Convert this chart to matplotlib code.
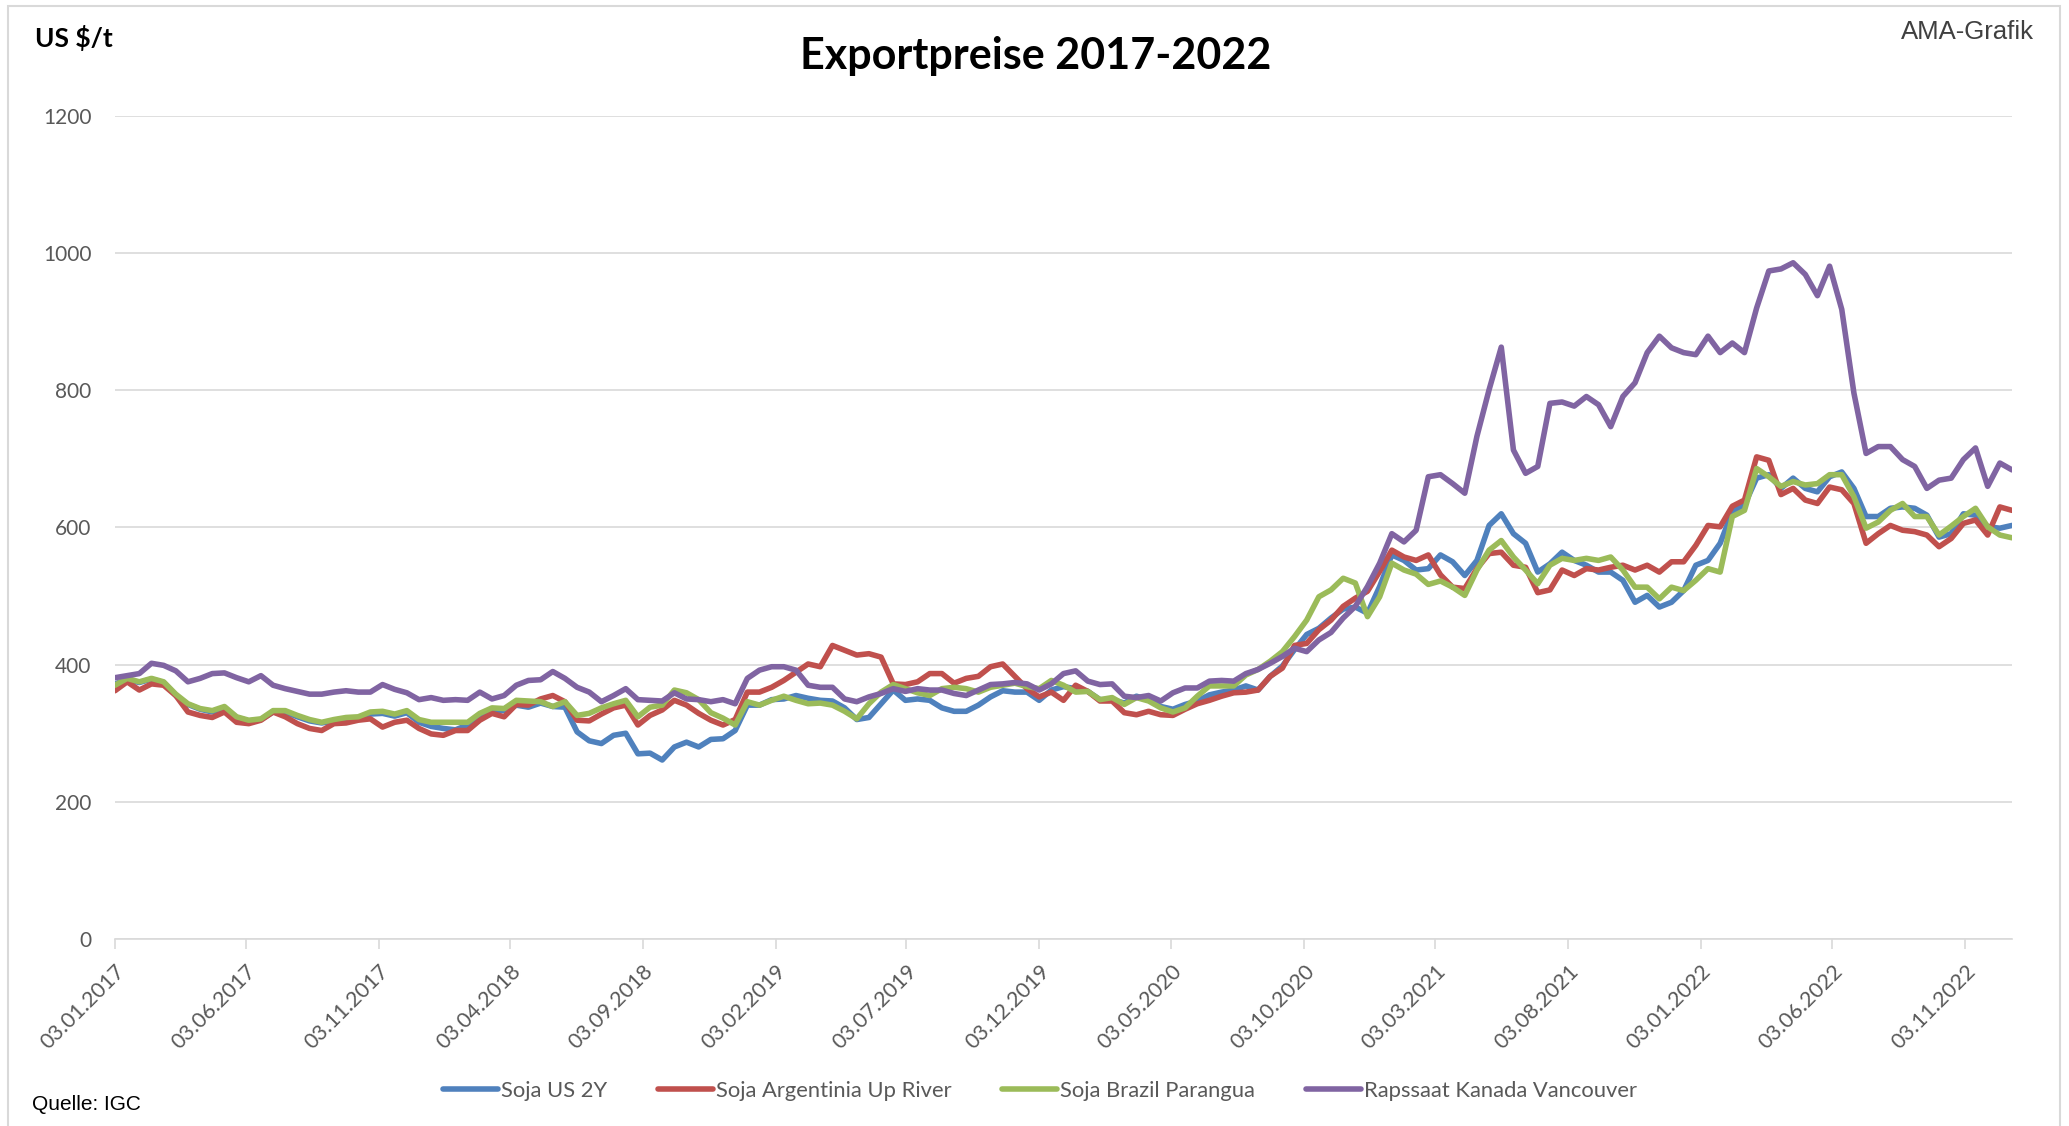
import matplotlib.pyplot as plt
import matplotlib.dates as mdates
import pandas as pd

# === Daten (US $/t, zweiwoechentlich ab 03.01.2017) ===
soja_us = [
    372, 378, 374, 379, 374, 355, 342, 335, 331, 337, 323, 318, 320, 331, 331, 324, 318, 315, 318, 321,
    322, 328, 329, 325, 330, 316, 310,
    307, 305, 312, 324, 333, 333, 341, 338, 344, 339, 338, 302, 289, 285, 297, 300, 270, 271, 261, 280,
    287, 280, 291, 292, 304, 341, 341,
    349, 350, 355, 351, 348, 347, 337, 320, 323, 343, 363, 348, 350, 348, 337, 332, 332, 341, 353, 362,
    360, 360, 348, 363, 368, 365,
    361, 349, 349, 344, 354, 349, 339, 335, 342, 347, 356, 360, 363, 369, 363, 383, 398, 422, 444, 453,
    468, 481, 484, 475, 514, 560,
    552, 538, 540, 560, 550, 530, 552, 603, 620, 591, 577, 535, 547, 564, 552, 545, 535, 535, 523, 491,
    501, 484, 491, 508, 545, 552, 577,
    623, 633, 672, 677, 657, 672, 657, 652, 674, 681, 657, 616, 616, 628, 630, 628, 618, 586, 591, 620,
    618, 601, 599, 603,
]
soja_arg = [
    362, 375, 363, 372, 370, 355, 331, 326, 323, 331, 316, 314, 319, 331, 324, 314, 307, 304, 314, 315,
    319, 321, 309, 316, 319, 307, 299,
    297, 304, 304, 319, 329, 324, 342, 341, 350, 355, 346, 319, 318, 328, 337, 341, 312, 326, 334, 348,
    341, 329, 319, 312, 320, 360, 360,
    367, 377, 389, 401, 397, 428, 421, 414, 416, 411, 372, 371, 375, 387, 387, 373, 380, 383, 397, 401,
    383, 365, 353, 360, 348, 370,
    361, 347, 347, 330, 327, 332, 327, 326, 335, 343, 348, 354, 359, 360, 363, 383, 395, 428, 431, 451,
    465, 485, 497, 507, 536, 567,
    557, 552, 560, 531, 513, 511, 540, 562, 564, 545, 542, 505, 509, 538, 530, 540, 538, 542, 545, 538,
    545, 535, 550, 550, 574, 603, 601,
    631, 640, 703, 698, 648, 657, 640, 635, 659, 655, 635, 577, 591, 603, 596, 594, 589, 572, 584, 606,
    611, 589, 630, 625,
]
soja_bra = [
    370, 380, 375, 380, 375, 357, 343, 336, 333, 339, 324, 319, 321, 333, 333, 326, 320, 316, 320, 323,
    324, 331, 332, 328, 333, 320, 316,
    316, 316, 316, 329, 337, 336, 348, 347, 346, 339, 346, 326, 329, 337, 343, 348, 324, 338, 341, 363,
    359, 349, 330, 322, 312, 346, 341,
    348, 354, 348, 343, 344, 341, 332, 321, 343, 360, 371, 365, 359, 355, 365, 367, 365, 360, 367, 370,
    373, 368, 365, 377, 370, 360,
    361, 349, 352, 342, 352, 347, 337, 331, 337, 354, 369, 369, 369, 385, 393, 405, 419, 441, 465, 499,
    509, 526, 519, 470, 499, 548,
    538, 532, 517, 522, 513, 501, 538, 567, 581, 557, 538, 518, 545, 555, 552, 555, 552, 557, 538, 513,
    513, 496, 513, 508, 523, 540, 535,
    616, 625, 686, 674, 660, 667, 662, 664, 677, 677, 645, 599, 608, 625, 635, 616, 616, 589, 602, 616,
    628, 601, 589, 585,
]
raps_kan = [
    381, 384, 387, 402, 399, 391, 375, 380, 387, 388, 381, 375, 384, 370, 365, 361, 357, 357, 360, 362,
    360, 360, 371, 364, 359, 349, 352,
    348, 349, 348, 360, 350, 355, 370, 377, 378, 390, 380, 367, 360, 346, 355, 365, 349, 348, 347, 359,
    350, 349, 346, 349, 343, 380, 392,
    397, 397, 392, 370, 367, 367, 350, 346, 353, 358, 365, 361, 365, 363, 363, 358, 355, 363, 371, 372,
    374, 372, 363, 372, 387, 391,
    376, 371, 372, 354, 352, 355, 347, 359, 366, 366, 376, 377, 376, 387, 393, 402, 412, 424, 419, 436,
    447, 468, 485, 514, 548, 591,
    579, 596, 674, 677, 664, 650, 733, 801, 863, 713, 679, 689, 781, 783, 777, 791, 779, 747, 791, 811,
    855, 879, 862, 855, 852, 879, 855,
    869, 855, 920, 974, 977, 986, 969, 938, 981, 918, 796, 708, 718, 718, 699, 689, 657, 669, 672, 699,
    716, 660, 694, 684,
]

series_names = ["Soja US 2Y", "Soja Argentinia Up River", "Soja Brazil Parangua", "Rapssaat Kanada Vancouver"]
series_colors = ["#4F81BD", "#C0504D", "#9BBB59", "#8064A2"]

tick_dates = pd.to_datetime([
    "2017-01-03", "2017-06-03", "2017-11-03", "2018-04-03", "2018-09-03", "2019-02-03",
    "2019-07-03", "2019-12-03", "2020-05-03", "2020-10-03", "2021-03-03", "2021-08-03",
    "2022-01-03", "2022-06-03", "2022-11-03",
])
y_ticks = [0, 200, 400, 600, 800, 1000, 1200]

dates = pd.date_range("2017-01-03", periods=len(soja_us), freq="14D")

# === Abbildung ===
W, H = 2069, 1126
fig = plt.figure(figsize=(W / 100, H / 100), dpi=100)
ax = fig.add_axes([115 / W, 187 / H, 1897 / W, 823 / H])

grey = "#D9D9D9"
txt = "#595959"
font = ["Lato", "DejaVu Sans"]

for vals, col, name in zip([soja_us, soja_arg, soja_bra, raps_kan], series_colors, series_names):
    ax.plot(dates, vals, color=col, lw=4.0, label=name,
            solid_joinstyle="round", solid_capstyle="round")

ax.set_xlim(dates[0], dates[-1])
ax.set_ylim(0, 1200)
ax.set_yticks(y_ticks)
ax.yaxis.grid(True, color=grey, lw=1.2)
ax.set_axisbelow(True)

for s in ["top", "right", "left"]:
    ax.spines[s].set_visible(False)
ax.spines["bottom"].set_color(grey)
ax.spines["bottom"].set_linewidth(1.2)

ax.set_xticks(tick_dates)
ax.xaxis.set_major_formatter(mdates.DateFormatter("%d.%m.%Y"))
ax.tick_params(axis="x", length=7, width=1.2, color=grey, pad=9,
               labelsize=15.5, labelcolor=txt)
ax.tick_params(axis="y", length=0, pad=17, labelsize=15, labelcolor=txt)
for lab in ax.get_xticklabels() + ax.get_yticklabels():
    lab.set_family(font)
plt.setp(ax.get_xticklabels(), rotation=45, ha="right", va="top", rotation_mode="anchor")

# === Legende ===
leg = fig.legend(loc="center", bbox_to_anchor=(1040 / W, 1 - 1091 / H), ncol=4,
                 frameon=False, handlelength=2.5, handletextpad=0.15, columnspacing=2.3,
                 prop={"family": font, "size": 15.8})
for t in leg.get_texts():
    t.set_color(txt)

# === Texte ===
fig.text(1036 / W, 1 - 56 / H, "Exportpreise 2017-2022", ha="center", va="center",
         fontsize=31, weight="bold", family=font)
fig.text(35 / W, 1 - 38 / H, r"US \$/t", ha="left", va="center",
         fontsize=19, weight="bold", family=font)
fig.text(2034 / W, 1 - 32 / H, "AMA-Grafik", ha="right", va="center",
         fontsize=18.5, family="Liberation Sans", color="#404040")
fig.text(32 / W, 1 - 1105 / H, "Quelle: IGC", ha="left", va="center",
         fontsize=15, family="Liberation Sans")

# Rahmen
fig.patches.append(plt.Rectangle((8 / W, -0.01), 2052 / W, (H - 6) / H + 0.01,
                                 transform=fig.transFigure, fill=False,
                                 edgecolor=grey, lw=1.5))

fig.savefig("out.png", dpi=100)
plt.close(fig)
